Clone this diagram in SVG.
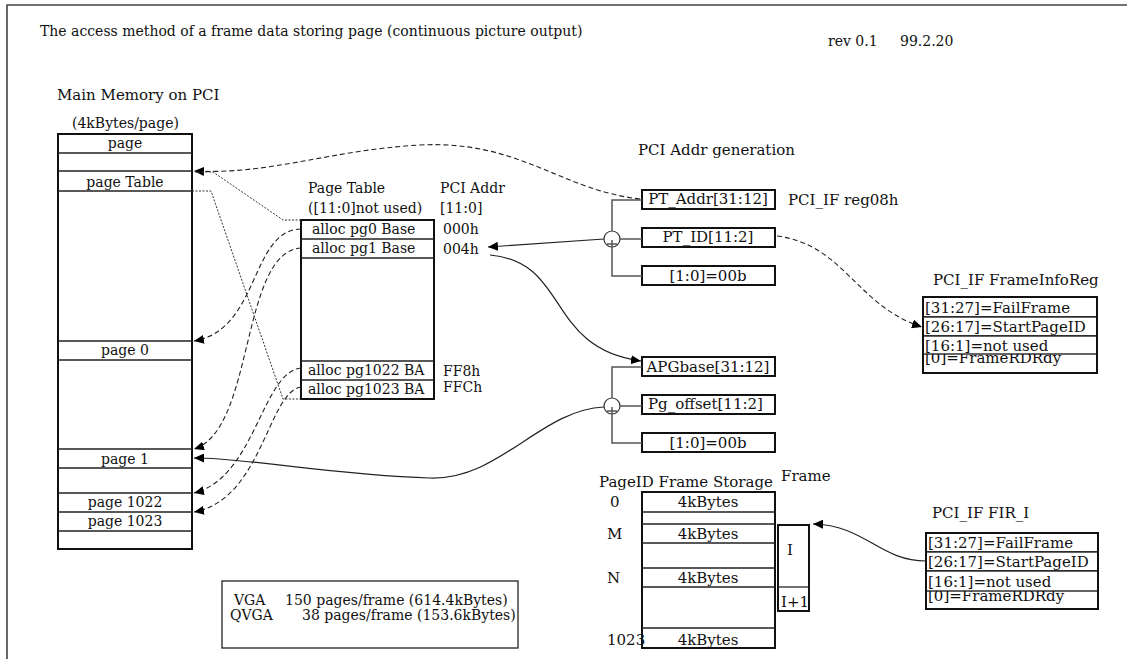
<svg xmlns="http://www.w3.org/2000/svg" width="1127" height="659" viewBox="0 0 1127 659">
<style>
text{font-family:"DejaVu Serif","Liberation Serif",serif;fill:#111;}
.t14{font-size:14px;}
.t15{font-size:15px;}
.box{fill:#fff;stroke:#111;stroke-width:2;}
.row{stroke:#222;stroke-width:1.3;fill:none;}
.rowr{fill:#fff;stroke:#111;stroke-width:1.3;}
.c{text-anchor:middle;}
.ln{fill:none;stroke:#222;stroke-width:1.2;}
.dash{fill:none;stroke:#222;stroke-width:1.1;stroke-dasharray:5,3;}
.dot{fill:none;stroke:#333;stroke-width:1;stroke-dasharray:2,1.5;}
.g{fill:none;stroke:#555;stroke-width:1.5;}
</style>
<defs>
<marker id="ah" markerWidth="10" markerHeight="9" refX="10" refY="4.5" orient="auto" markerUnits="userSpaceOnUse">
<path d="M0,0 L10,4.5 L0,9 z" fill="#000"/>
</marker>
</defs>
<rect width="1127" height="659" fill="#fff"/>
<path d="M7,659 V5 H1127" fill="none" stroke="#444" stroke-width="1.6"/>
<g id="header">
<text class="t14" x="40" y="36">The access method of a frame data storing page (continuous picture output)</text>
<text class="t14" x="828" y="46">rev 0.1</text>
<text class="t14" x="900" y="46">99.2.20</text>
</g>
<g id="main-memory">
<text class="t15" x="57" y="100">Main Memory on PCI</text>
<text class="t14" x="72" y="128">(4kBytes/page)</text>
<rect class="box" x="58" y="134" width="134" height="415"/>
<path class="row" d="M58,153H192 M58,171H192 M58,191H192 M58,341H192 M58,360H192 M58,449H192 M58,468H192 M58,493H192 M58,512H192 M58,531H192"/>
<text class="t14 c" x="125" y="148">page</text>
<text class="t14 c" x="125" y="187">page Table</text>
<text class="t14 c" x="125" y="355">page 0</text>
<text class="t14 c" x="125" y="464">page 1</text>
<text class="t14 c" x="125" y="507">page 1022</text>
<text class="t14 c" x="125" y="526">page 1023</text>
</g>
<g id="page-table">
<text class="t14" x="308" y="193">Page Table</text>
<text class="t14" x="308" y="213">([11:0]not used)</text>
<text class="t14" x="440" y="193">PCI Addr</text>
<text class="t14" x="440" y="213">[11:0]</text>
<rect class="box" x="301" y="220" width="133" height="179"/>
<path class="row" d="M301,239H434 M301,258H434 M301,361H434 M301,380H434"/>
<text class="t14" x="312" y="234">alloc pg0 Base</text>
<text class="t14" x="312" y="253">alloc pg1 Base</text>
<text class="t14" x="308" y="375">alloc pg1022 BA</text>
<text class="t14" x="308" y="394">alloc pg1023 BA</text>
<text class="t14" x="443" y="234">000h</text>
<text class="t14" x="443" y="254">004h</text>
<text class="t14" x="443" y="376">FF8h</text>
<text class="t14" x="443" y="392">FFCh</text>
</g>
<g id="pci-addr-gen">
<text class="t15" x="638" y="155">PCI Addr generation</text>
<rect class="box" x="642" y="190" width="133" height="19"/>
<text class="t15 c" x="708" y="204">PT_Addr[31:12]</text>
<text class="t15" x="788" y="205">PCI_IF reg08h</text>
<rect class="box" x="642" y="228" width="133" height="19"/>
<text class="t15 c" x="708" y="242">PT_ID[11:2]</text>
<rect class="box" x="642" y="266" width="133" height="19"/>
<text class="t15 c" x="708" y="281">[1:0]=00b</text>
<circle cx="612" cy="239" r="8" fill="#fff" stroke="#333" stroke-width="1.2"/>
<path class="g" d="M642,200H612V231 M612,240V276H642 M620,239H642 M607,244H617"/>
</g>
<g id="apg-gen">
<rect class="box" x="642" y="357" width="133" height="19"/>
<text class="t15 c" x="708" y="372">APGbase[31:12]</text>
<rect class="box" x="642" y="395" width="133" height="19"/>
<text class="t15" x="648" y="409">Pg_offset[11:2]</text>
<rect class="box" x="642" y="433" width="133" height="19"/>
<text class="t15 c" x="708" y="448">[1:0]=00b</text>
<circle cx="612" cy="406" r="8" fill="#fff" stroke="#333" stroke-width="1.2"/>
<path class="g" d="M642,367H612V398 M612,407V443H642 M620,406H642 M607,411H617"/>
</g>
<g id="frame-info-reg">
<text class="t15" x="933" y="285">PCI_IF FrameInfoReg</text>
<rect class="box" x="923" y="297" width="174" height="76"/>
<text class="t15" x="925" y="363">[0]=FrameRDRdy</text>
<rect class="rowr" x="923" y="297" width="174" height="20"/>
<rect class="rowr" x="923" y="317" width="174" height="19"/>
<rect class="rowr" x="923" y="336" width="174" height="18"/>
<text class="t15" x="925" y="313">[31:27]=FailFrame</text>
<text class="t15" x="925" y="332">[26:17]=StartPageID</text>
<text class="t15" x="925" y="351">[16:1]=not used</text>
<rect x="923" y="297" width="174" height="76" fill="none" stroke="#111" stroke-width="2"/>
</g>
<g id="fir-i">
<text class="t15" x="932" y="518">PCI_IF FIR_I</text>
<rect class="box" x="926" y="533" width="172" height="76"/>
<text class="t15" x="928" y="601">[0]=FrameRDRdy</text>
<rect class="rowr" x="926" y="533" width="172" height="19"/>
<rect class="rowr" x="926" y="552" width="172" height="19"/>
<rect class="rowr" x="926" y="571" width="172" height="20"/>
<text class="t15" x="928" y="548">[31:27]=FailFrame</text>
<text class="t15" x="928" y="567">[26:17]=StartPageID</text>
<text class="t15" x="928" y="587">[16:1]=not used</text>
<rect x="926" y="533" width="172" height="76" fill="none" stroke="#111" stroke-width="2"/>
</g>
<g id="frame-storage">
<text class="t15" x="599" y="487">PageID Frame Storage</text>
<rect class="box" x="642" y="492" width="133" height="156"/>
<path class="row" d="M642,512H775 M642,524H775 M642,543H775 M642,568H775 M642,587H775 M642,628H775"/>
<text class="t15 c" x="708" y="507">4kBytes</text>
<text class="t15 c" x="708" y="539">4kBytes</text>
<text class="t15 c" x="708" y="583">4kBytes</text>
<text class="t15 c" x="708" y="645">4kBytes</text>
<text class="t15" x="610" y="507">0</text>
<text class="t15" x="607" y="539">M</text>
<text class="t15" x="607" y="583">N</text>
<text class="t15" x="607" y="645">1023</text>
</g>
<g id="frame">
<text class="t15" x="781" y="481">Frame</text>
<rect class="box" x="778" y="525" width="31" height="86"/>
<path class="row" d="M778,587H809"/>
<text class="t15" x="787" y="555">I</text>
<text class="t15" x="781" y="607">I+1</text>
</g>
<g id="note">
<rect x="222" y="581" width="296" height="67" fill="#fff" stroke="#222" stroke-width="1.3"/>
<text class="t14" x="234" y="605">VGA</text>
<text class="t14" x="285" y="605">150 pages/frame (614.4kBytes)</text>
<text class="t14" x="230" y="620">QVGA</text>
<text class="t14" x="302" y="620">38 pages/frame (153.6kBytes)</text>
</g>
<g id="connectors">
<path class="dash" d="M640,199 C560,190 520,140 420,145 C330,150 270,175 194,171" marker-end="url(#ah)"/>
<path class="dot" d="M301,220 H283 L213,172 H194"/>
<path class="dot" d="M192,191 H211 L283,399 H301"/>
<path class="dash" d="M301,229 C250,230 260,330 194,341" marker-end="url(#ah)"/>
<path class="dash" d="M301,248 C240,252 255,430 194,449" marker-end="url(#ah)"/>
<path class="dash" d="M301,368 C262,372 255,478 194,493" marker-end="url(#ah)"/>
<path class="dash" d="M301,387 C268,392 262,500 194,512" marker-end="url(#ah)"/>
<path class="ln" d="M604,239 L488,247" marker-end="url(#ah)"/>
<path class="ln" d="M490,255 C570,262 545,348 641,361" marker-end="url(#ah)"/>
<path class="ln" d="M604,407 C540,410 500,480 430,478 C330,475 250,458 194,458" marker-end="url(#ah)"/>
<path class="dash" d="M777,236 C845,245 855,305 922,327" marker-end="url(#ah)"/>
<path class="ln" d="M926,561 C880,561 865,525 813,524" marker-end="url(#ah)"/>
</g>
</svg>
